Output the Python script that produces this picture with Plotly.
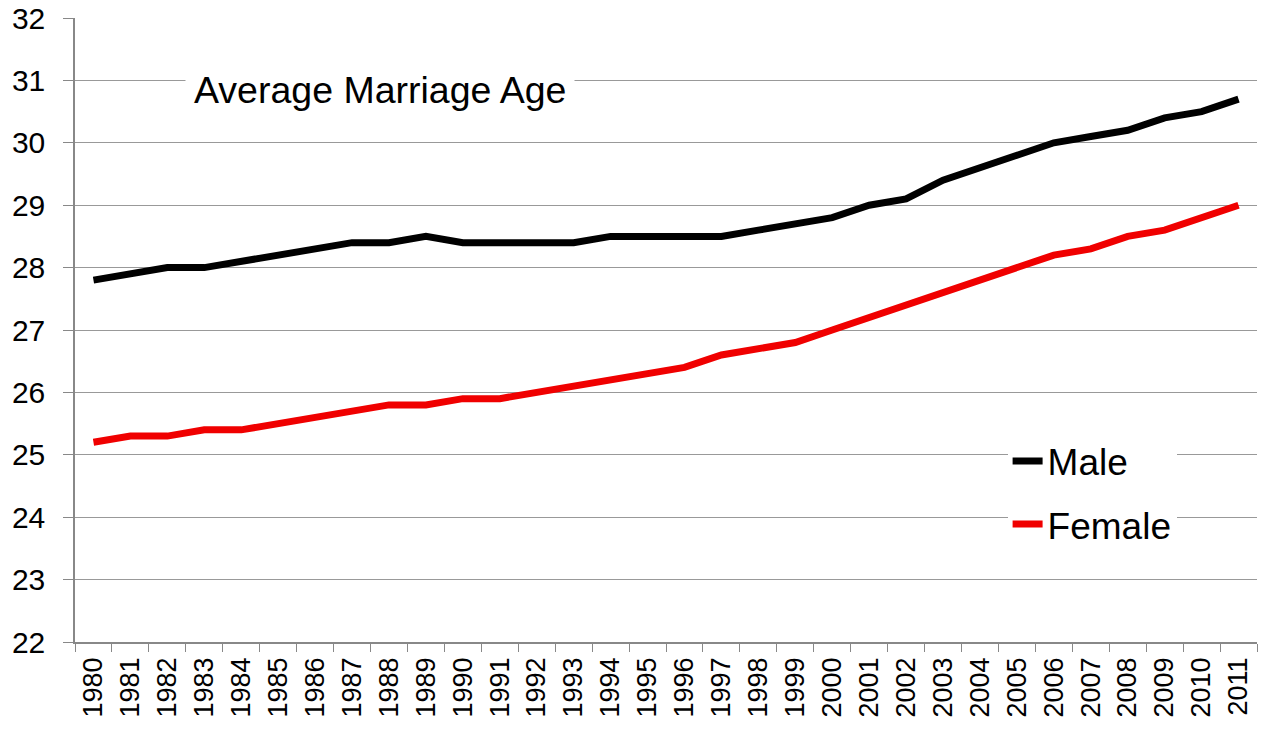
import plotly.graph_objects as go

years = [str(y) for y in range(1980, 2012)]
male = [27.8, 27.9, 28.0, 28.0, 28.1, 28.2, 28.3, 28.4, 28.4, 28.5,
        28.4, 28.4, 28.4, 28.4, 28.5, 28.5, 28.5, 28.5, 28.6, 28.7,
        28.8, 29.0, 29.1, 29.4, 29.6, 29.8, 30.0, 30.1, 30.2, 30.4,
        30.5, 30.7]
female = [25.2, 25.3, 25.3, 25.4, 25.4, 25.5, 25.6, 25.7, 25.8, 25.8,
          25.9, 25.9, 26.0, 26.1, 26.2, 26.3, 26.4, 26.6, 26.7, 26.8,
          27.0, 27.2, 27.4, 27.6, 27.8, 28.0, 28.2, 28.3, 28.5, 28.6,
          28.8, 29.0]
y_ticks = list(range(22, 33))
title_text = "Average Marriage Age"

FONT = "Liberation Sans, Arial, sans-serif"

fig = go.Figure()
fig.add_trace(go.Scatter(x=years, y=male, mode="lines", name="Male",
                         legendgroup="m",
                         line=dict(color="#000000", width=7)))
fig.add_trace(go.Scatter(x=years, y=female, mode="lines", name="Female",
                         legendgroup="f",
                         line=dict(color="#f00000", width=7)))

fig.update_layout(
    width=1263, height=737,
    margin=dict(l=75, r=6, t=18, b=95),
    plot_bgcolor="white", paper_bgcolor="white",
    font=dict(family=FONT, color="black", size=26),
    legend=dict(x=0.789, y=0.339, xanchor="left", yanchor="top",
                bgcolor="white", font=dict(size=37, family=FONT),
                tracegroupgap=12, itemwidth=30),
    annotations=[dict(text=title_text, x=0.093, y=0.885, xref="paper", yref="paper",
                      xanchor="left", yanchor="middle", showarrow=False,
                      bgcolor="white", borderpad=8,
                      font=dict(size=37.5, family=FONT, color="black"))],
)
fig.update_xaxes(type="category", range=[-0.5, len(years) - 0.5],
                 tickson="boundaries", ticks="outside", ticklen=8,
                 tickcolor="#888888", showline=True, linecolor="#888888",
                 linewidth=1.5, showgrid=False, tickangle=-90,
                 automargin=False, ticklabelstandoff=3,
                 ticklabeloverflow="allow",
                 tickfont=dict(size=27, family=FONT))
fig.update_yaxes(range=[22, 32], tickvals=y_ticks, ticks="outside", ticklen=10,
                 tickcolor="#888888", showline=True, linecolor="#888888",
                 linewidth=1.5, showgrid=True, gridcolor="#999999", gridwidth=1.2,
                 zeroline=False, automargin=False, ticklabelstandoff=12,
                 ticklabeloverflow="allow",
                 tickfont=dict(size=30, family=FONT))

# remove the page's default body margin so the figure fills the window exactly
fig.write_html("out.html",
               config={"displayModeBar": False},
               post_script="document.body.style.margin='0px';document.body.style.overflow='hidden';")
